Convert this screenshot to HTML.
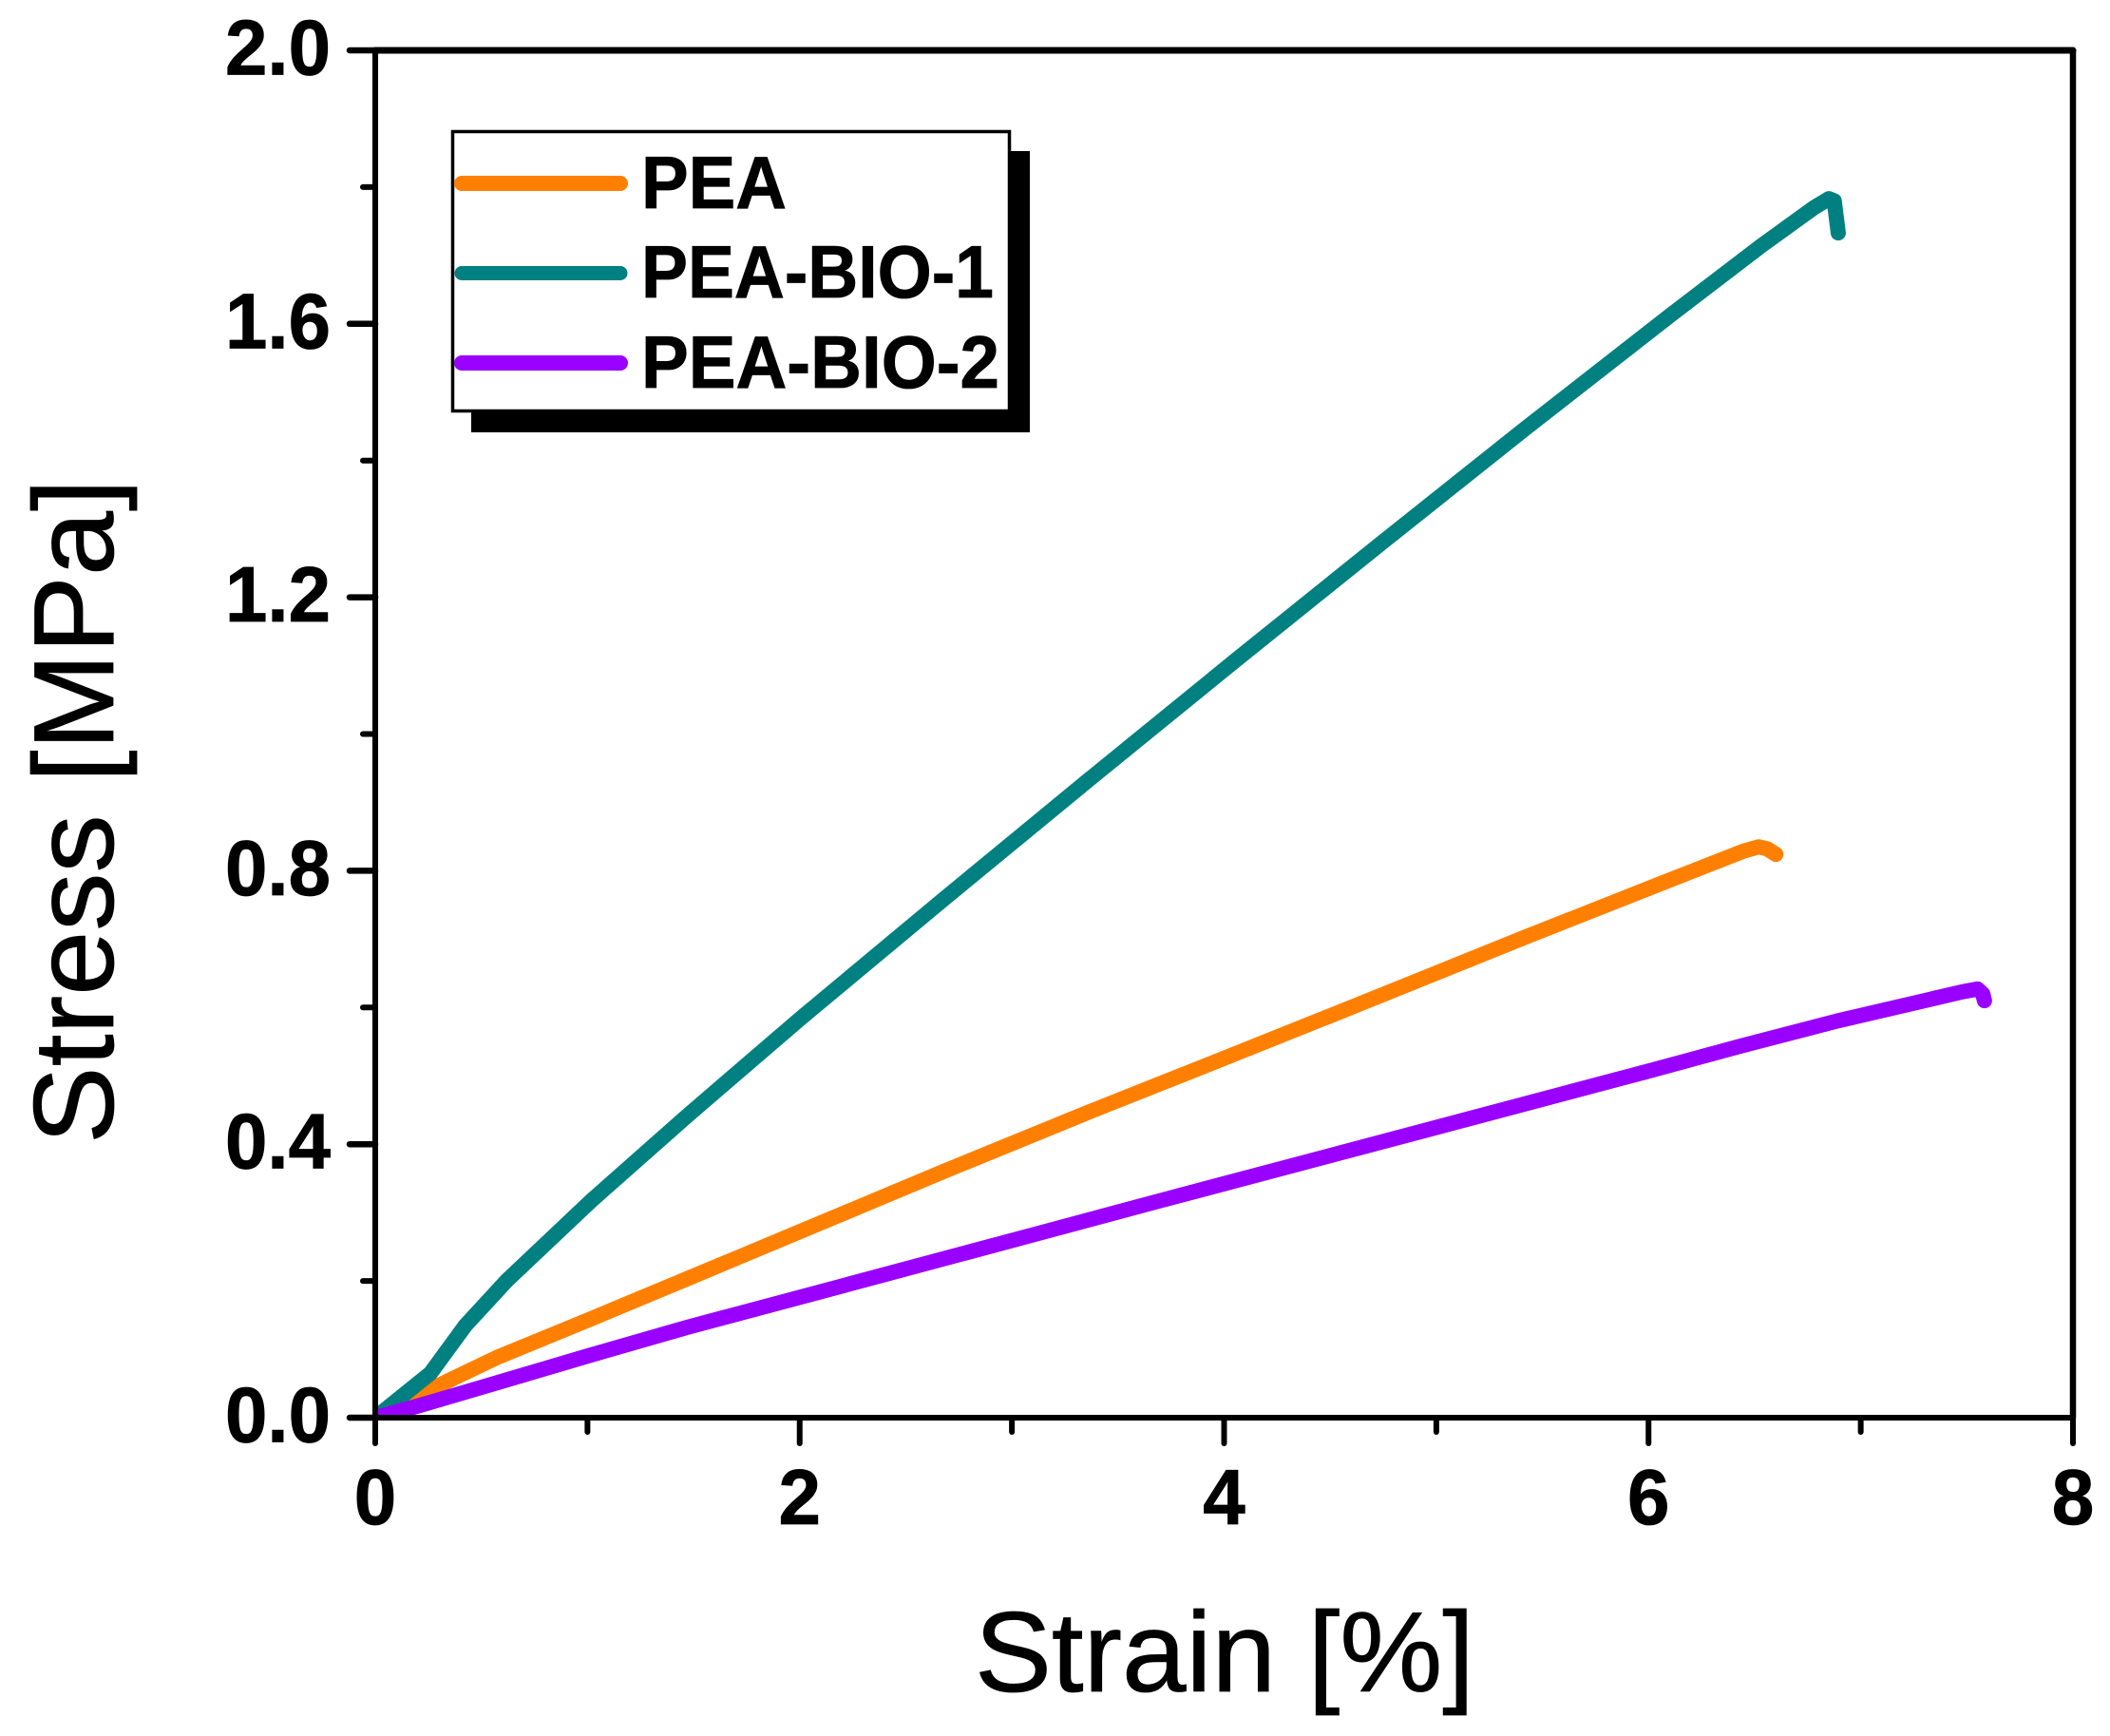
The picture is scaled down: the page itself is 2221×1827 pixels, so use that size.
<!DOCTYPE html>
<html lang="en">
<head>
<meta charset="utf-8">
<title>Stress vs Strain</title>
<style>
html,body{margin:0;padding:0;background:#fff;}
svg{display:block;}
text{fill:#000;stroke:#000;font-family:"Liberation Sans",sans-serif;}
</style>
</head>
<body>
<svg id="chart" xmlns="http://www.w3.org/2000/svg" width="2221" height="1827" viewBox="0 0 2221 1827">
  <defs>
    <clipPath id="plot-clip"><rect x="395" y="53" width="1787" height="1439"></rect></clipPath>
  </defs>
  <rect x="0" y="0" width="2221" height="1827" fill="#fff"></rect>
  <g id="series-layer" clip-path="url(#plot-clip)"></g>
  <g id="axes-layer"></g>

  <text x="1289" y="1780" font-size="120" stroke-width="0.8" text-anchor="middle" textLength="526" lengthAdjust="spacingAndGlyphs">Strain [%]</text>
  <text transform="translate(119,854) rotate(-90)" font-size="120" stroke-width="0.8" text-anchor="middle" textLength="700" lengthAdjust="spacingAndGlyphs">Stress [MPa]</text>

  <g>
    <rect x="496" y="159" width="588" height="296" fill="#000"></rect>
    <rect x="476.5" y="138.5" width="586" height="294" fill="#fff" stroke="#000" stroke-width="3.5"></rect>
    <line x1="486" y1="193" x2="653" y2="193" stroke="#FF8000" stroke-width="16" stroke-linecap="round"></line>
    <line x1="486" y1="287.5" x2="653" y2="287.5" stroke="#008080" stroke-width="15" stroke-linecap="round"></line>
    <line x1="486" y1="382" x2="653" y2="382" stroke="#9900FF" stroke-width="16" stroke-linecap="round"></line>
    <text x="675" y="219" font-size="78" font-weight="bold" stroke-width="0.8" textLength="153" lengthAdjust="spacingAndGlyphs">PEA</text>
    <text x="675" y="313" font-size="78" font-weight="bold" stroke-width="0.8" textLength="371" lengthAdjust="spacingAndGlyphs">PEA-BIO-1</text>
    <text x="675" y="408" font-size="78" font-weight="bold" stroke-width="0.8" textLength="377" lengthAdjust="spacingAndGlyphs">PEA-BIO-2</text>
  </g>
</svg>
<script>
var peaStrain = [0, 0.17, 0.573, 1.02, 1.468, 2, 2.677, 3.362, 4.051, 4.678, 5.42, 6.105, 6.45, 6.52, 6.56, 6.6];
var peaStress = [0, 0.028, 0.088, 0.145, 0.203, 0.272, 0.36, 0.447, 0.532, 0.61, 0.703, 0.787, 0.829, 0.835, 0.832, 0.824];

var bio1Strain = [0, 0.26, 0.425, 0.618, 1.02, 1.468, 2, 2.677, 3.362, 4.051, 4.736, 5.42, 6.105, 6.535, 6.78, 6.85, 6.875, 6.894];
var bio1Stress = [0, 0.065, 0.135, 0.2, 0.318, 0.441, 0.583, 0.758, 0.933, 1.107, 1.278, 1.447, 1.613, 1.715, 1.77, 1.783, 1.78, 1.733];

var bio2Strain = [0, 0.2, 0.573, 1.02, 1.468, 2.216, 3.106, 3.706, 4.678, 6, 6.44, 6.886, 7.48, 7.55, 7.575, 7.583];
var bio2Stress = [0, 0.017, 0.051, 0.092, 0.132, 0.194, 0.268, 0.318, 0.398, 0.507, 0.544, 0.58, 0.623, 0.627, 0.62, 0.61];

var xMajorLabels = ['0', '2', '4', '6', '8'];
var xMinorValues = [1, 3, 5, 7];
var yMajorLabels = ['0.0', '0.4', '0.8', '1.2', '1.6', '2.0'];
var yMinorValues = [0.2, 0.6, 1.0, 1.4, 1.8];

var NS = 'http://www.w3.org/2000/svg';
var PLOT = { left: 395, right: 2182, top: 53, bottom: 1492, xMax: 8, yMax: 2 };

function xScale(v) { return PLOT.left + (v / PLOT.xMax) * (PLOT.right - PLOT.left); }
function yScale(v) { return PLOT.bottom - (v / PLOT.yMax) * (PLOT.bottom - PLOT.top); }

function svgEl(tag, attrs) {
  var el = document.createElementNS(NS, tag);
  for (var k in attrs) { el.setAttribute(k, attrs[k]); }
  return el;
}

function drawSeries(xs, ys, color, width, name) {
  var d = '';
  for (var i = 0; i < xs.length; i++) {
    d += (i ? 'L' : 'M') + xScale(xs[i]).toFixed(2) + ' ' + yScale(ys[i]).toFixed(2);
  }
  var p = svgEl('path', { d: d, fill: 'none', stroke: color, 'stroke-width': width, 'stroke-linecap': 'round', 'stroke-linejoin': 'round' });
  
  
  document.getElementById('series-layer').appendChild(p);
}

drawSeries(peaStrain, peaStress, '#FF8000', 16, 'series-pea');
drawSeries(bio1Strain, bio1Stress, '#008080', 16, 'series-pea-bio-1');
drawSeries(bio2Strain, bio2Stress, '#9900FF', 16, 'series-pea-bio-2');

var axes = document.getElementById('axes-layer');

function axisLine(x1, y1, x2, y2, w, name) {
  var l = svgEl('line', { x1: x1, y1: y1, x2: x2, y2: y2, stroke: '#000', 'stroke-width': w, 'stroke-linecap': 'round' });
  
  
  axes.appendChild(l);
}

axisLine(xScale(0), yScale(2), xScale(0), yScale(0), 6, 'y-axis-line');
axisLine(xScale(8), yScale(2), xScale(8), yScale(0), 6.5, 'right-frame-line');
axisLine(xScale(0), yScale(2), xScale(8), yScale(2), 7, 'top-frame-line');
axisLine(xScale(0), yScale(0), xScale(8), yScale(0), 6, 'x-axis-line');

xMajorLabels.forEach(function (label) {
  var v = parseFloat(label);
  axisLine(xScale(v), yScale(0), xScale(v), PLOT.bottom + 27, 6, 'x-major-tick');
  var t = svgEl('text', { x: xScale(v), y: 1604, 'font-size': 83, 'font-weight': 'bold', 'stroke-width': 0.8, 'text-anchor': 'middle', textLength: 44.5, lengthAdjust: 'spacingAndGlyphs' });
  
  
  t.textContent = label;
  axes.appendChild(t);
});

xMinorValues.forEach(function (v) {
  axisLine(xScale(v), yScale(0), xScale(v), PLOT.bottom + 15, 6, 'x-minor-tick');
});

yMajorLabels.forEach(function (label) {
  var v = parseFloat(label);
  axisLine(PLOT.left - 27, yScale(v), xScale(0), yScale(v), 6.5, 'y-major-tick');
  var t = svgEl('text', { x: 348, y: yScale(v) + 25.5, 'font-size': 83, 'font-weight': 'bold', 'stroke-width': 0.8, 'text-anchor': 'end', textLength: 111, lengthAdjust: 'spacingAndGlyphs' });
  
  
  t.textContent = label;
  axes.appendChild(t);
});

yMinorValues.forEach(function (v) {
  axisLine(PLOT.left - 13, yScale(v), xScale(0), yScale(v), 6, 'y-minor-tick');
});
</script>
</body>
</html>
